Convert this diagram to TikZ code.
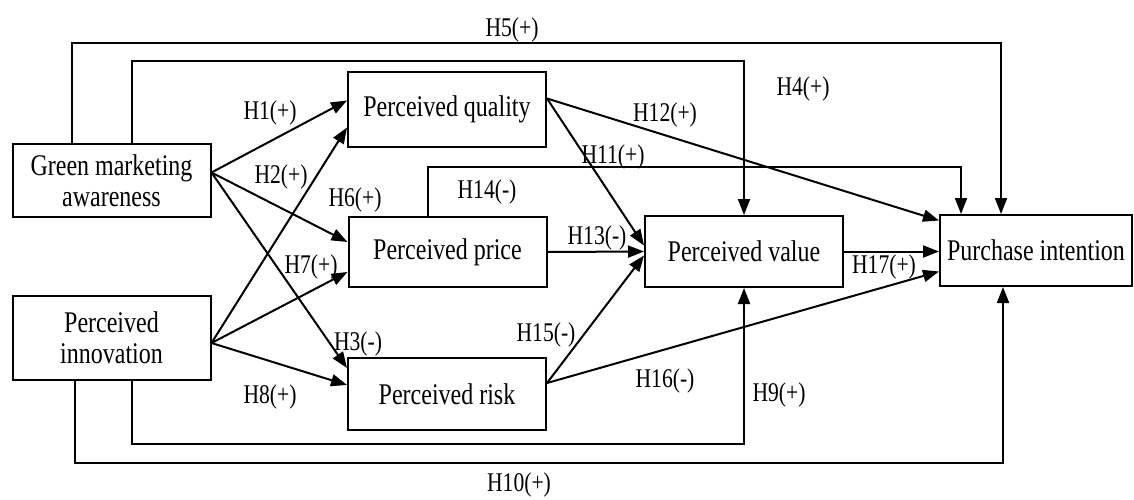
\documentclass[tikz,border=0pt]{standalone}
\usepackage{fontspec}
\setmainfont{Liberation Serif}[FakeStretch=0.8]
\usetikzlibrary{arrows.meta, calc}

\begin{document}
\begin{tikzpicture}[x=1pt, y=-1pt,
    box/.style={rectangle, draw, line width=2pt, minimum width=198pt, minimum height=72pt, align=center, inner sep=0pt, font=\fontsize{30}{31}\selectfont},
    arr/.style={-{Triangle[length=16pt, width=12pt]}, line width=2pt},
    lbl/.style={font=\fontsize{27}{28}\selectfont, inner sep=0pt},
  ]
    \useasboundingbox (0,0) rectangle (1134,500);

    \node[box, minimum height=73pt] (gma) at (111.5,180.5) {Green marketing\\awareness};
    \node[box, minimum height=84pt] (inno) at (111.5,338) {Perceived\\innovation};
    \node[box, minimum height=75pt] (quality) at (447,109.5) {Perceived quality};
    \node[box, minimum height=70pt] (price) at (447.5,252) {Perceived price};
    \node[box] (risk) at (447,394) {Perceived risk};
    \node[box, minimum height=71pt] (value) at (744,251.5) {Perceived value};
    \node[box, minimum width=192pt, minimum height=71pt] (intent) at (1036,250.5) {Purchase intention};

    % antecedents -> perceived quality / price / risk
    \draw[arr] ([yshift=8pt]gma.east) -- ([yshift=9pt]quality.west);
    \draw[arr] ([yshift=8pt]gma.east) -- ([yshift=10pt]price.west);
    \draw[arr] ([yshift=8pt]gma.east) -- ([yshift=26pt]risk.west);
    \draw[arr] ([yshift=-5pt]inno.east) -- ([yshift=-18pt]quality.west);
    \draw[arr] ([yshift=-5pt]inno.east) -- ([yshift=-20pt]price.west);
    \draw[arr] ([yshift=-5pt]inno.east) -- ([yshift=9pt]risk.west);

    % long paths
    \draw[arr] ([xshift=-40pt]gma.north) -- ++(0,-100) -| ([xshift=-35pt]intent.north);
    \draw[arr] ([xshift=20pt]gma.north) -- ++(0,-82) -| (value.north);
    \draw[arr] ([xshift=20pt]inno.south) -- ++(0,63) -| (value.south);
    \draw[arr] ([xshift=-37pt]inno.south) -- ++(0,82) -| ([xshift=-33pt]intent.south);
    \draw[arr] ([xshift=-20pt]price.north) -- ++(0,-49) -| ([xshift=-75pt]intent.north);

    % perceived value and purchase intention
    \draw[arr] ([yshift=11pt]quality.east) -- ([yshift=6pt]value.west);
    \draw[arr] ([yshift=11pt]quality.east) -- ([yshift=30pt]intent.west);
    \draw[arr] (price.east) -- (value.west);
    \draw[arr] ([yshift=11pt]risk.east) -- ([yshift=-4pt]value.west);
    \draw[arr] ([yshift=11pt]risk.east) -- ([yshift=-21pt]intent.west);
    \draw[arr] (value.east) -- (value.east -| intent.west);

    \node[lbl] (h1) at (270,113) {H1(+)};
    \node[lbl] (h2) at (281,177) {H2(+)};
    \node[lbl] (h3) at (358,344) {H3(-)};
    \node[lbl] (h4) at (803,89) {H4(+)};
    \node[lbl] (h5) at (512,30) {H5(+)};
    \node[lbl] (h6) at (355,200) {H6(+)};
    \node[lbl] (h7) at (311,267) {H7(+)};
    \node[lbl] (h8) at (270,397) {H8(+)};
    \node[lbl] (h9) at (779,395) {H9(+)};
    \node[lbl] (h10) at (519,485) {H10(+)};
    \node[lbl] (h11) at (613,157) {H11(+)};
    \node[lbl] (h12) at (665,115) {H12(+)};
    \node[lbl] (h13) at (597,238) {H13(-)};
    \node[lbl] (h14) at (487,192) {H14(-)};
    \node[lbl] (h15) at (546,335) {H15(-)};
    \node[lbl] (h16) at (665,381) {H16(-)};
    \node[lbl] (h17) at (884,267) {H17(+)};
  \end{tikzpicture}
\end{document}
